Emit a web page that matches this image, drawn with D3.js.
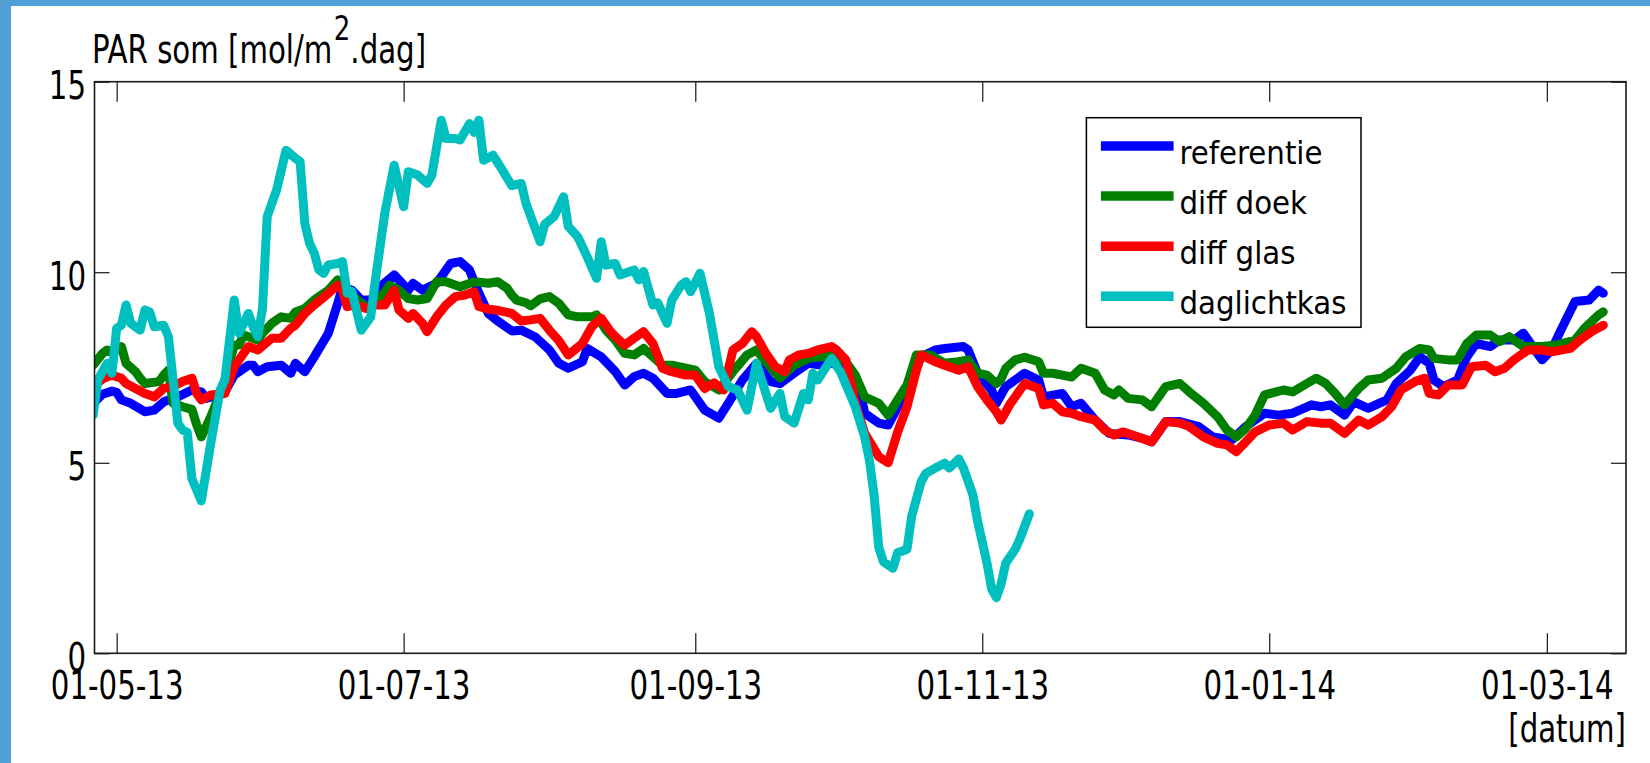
<!DOCTYPE html>
<html>
<head>
<meta charset="utf-8">
<script src="https://cdn.jsdelivr.net/npm/d3@7"></script>
<style>
  body { margin: 0; background: #fff; }
  svg { display: block; }
  text { font-family: "DejaVu Sans Condensed", "DejaVu Sans", sans-serif; fill: #000; }
</style>
</head>
<body>
<script>
// PAR som per kas, lopend gemiddelde
var referentie = [
  ["2013-04-26",6.55],["2013-04-28",6.8],["2013-04-30",6.88],["2013-05-01",6.85],["2013-05-02",6.65],["2013-05-04",6.56],
  ["2013-05-07",6.34],["2013-05-09",6.38],["2013-05-11",6.6],["2013-05-14",6.73],["2013-05-17",6.91],["2013-05-19",6.86],
  ["2013-05-20",6.69],["2013-05-23",6.78],["2013-05-24",6.86],["2013-05-26",7.3],["2013-05-29",7.56],["2013-05-30",7.56],
  ["2013-05-31",7.39],["2013-06-02",7.52],["2013-06-05",7.56],["2013-06-07",7.35],["2013-06-08",7.61],["2013-06-10",7.39],
  ["2013-06-12",7.78],["2013-06-15",8.4],["2013-06-17",9.18],["2013-06-18",9.62],["2013-06-20",9.53],["2013-06-22",9.27],
  ["2013-06-24",9.27],["2013-06-26",9.62],["2013-06-29",9.93],["2013-07-02",9.53],["2013-07-03",9.71],["2013-07-05",9.53],
  ["2013-07-08",9.71],["2013-07-11",10.23],["2013-07-13",10.28],["2013-07-15",10.06],["2013-07-17",9.45],["2013-07-19",8.92],
  ["2013-07-21",8.72],["2013-07-24",8.46],["2013-07-26",8.48],["2013-07-29",8.3],["2013-08-01",7.96],["2013-08-03",7.61],
  ["2013-08-05",7.48],["2013-08-08",7.65],["2013-08-09",8.0],["2013-08-12",7.78],["2013-08-15",7.39],["2013-08-17",7.04],
  ["2013-08-19",7.26],["2013-08-21",7.35],["2013-08-23",7.22],["2013-08-26",6.82],["2013-08-28",6.82],["2013-08-31",6.91],
  ["2013-09-03",6.38],["2013-09-06",6.17],["2013-09-08",6.56],["2013-09-11",7.17],["2013-09-14",7.61],["2013-09-17",7.13],
  ["2013-09-19",7.08],["2013-09-22",7.35],["2013-09-25",7.61],["2013-09-28",7.56],["2013-09-30",7.61],["2013-10-03",7.52],
  ["2013-10-06",6.91],["2013-10-07",6.3],["2013-10-10",6.04],["2013-10-12",5.99],["2013-10-16",6.91],["2013-10-19",7.78],
  ["2013-10-22",7.96],["2013-10-24",8.0],["2013-10-28",8.05],["2013-10-29",7.96],["2013-10-31",7.35],["2013-11-03",6.91],
  ["2013-11-04",6.56],["2013-11-06",7.0],["2013-11-10",7.35],["2013-11-13",7.17],["2013-11-14",6.73],["2013-11-18",6.82],
  ["2013-11-20",6.47],["2013-11-22",6.56],["2013-11-25",6.12],["2013-11-28",5.77],["2013-12-02",5.73],["2013-12-05",5.64],
  ["2013-12-07",5.55],["2013-12-10",6.08],["2013-12-13",6.08],["2013-12-17",5.95],["2013-12-20",5.68],["2013-12-24",5.6],
  ["2013-12-27",5.95],["2013-12-31",6.3],["2014-01-03",6.25],["2014-01-06",6.3],["2014-01-10",6.52],["2014-01-12",6.47],
  ["2014-01-14",6.52],["2014-01-17",6.25],["2014-01-19",6.6],["2014-01-22",6.43],["2014-01-26",6.65],["2014-01-28",7.08],
  ["2014-01-31",7.43],["2014-02-02",7.78],["2014-02-04",7.61],["2014-02-05",7.17],["2014-02-07",7.0],["2014-02-10",7.17],
  ["2014-02-12",7.78],["2014-02-14",8.13],["2014-02-17",8.05],["2014-02-19",8.22],["2014-02-22",8.22],["2014-02-24",8.4],
  ["2014-02-26",8.05],["2014-02-28",7.7],["2014-03-02",7.96],["2014-03-04",8.48],["2014-03-07",9.23],["2014-03-10",9.27],
  ["2014-03-12",9.53],["2014-03-13",9.45]
];

var diffDoek = [
  ["2013-04-26",7.56],["2013-04-28",7.87],["2013-04-29",7.96],["2013-04-30",7.9],["2013-05-02",8.05],["2013-05-03",7.61],
  ["2013-05-05",7.39],["2013-05-06",7.22],["2013-05-07",7.08],["2013-05-10",7.13],["2013-05-11",7.3],["2013-05-12",7.43],
  ["2013-05-13",6.56],["2013-05-15",6.47],["2013-05-17",6.4],["2013-05-18",6.0],["2013-05-19",5.68],["2013-05-21",6.21],
  ["2013-05-23",6.82],["2013-05-24",7.17],["2013-05-26",8.09],["2013-05-27",8.09],["2013-05-28",8.35],["2013-05-31",8.22],
  ["2013-06-01",8.4],["2013-06-03",8.66],["2013-06-05",8.83],["2013-06-07",8.79],["2013-06-08",8.96],["2013-06-10",9.05],
  ["2013-06-12",9.27],["2013-06-15",9.53],["2013-06-17",9.8],["2013-06-18",9.75],["2013-06-20",9.4],["2013-06-22",9.18],
  ["2013-06-24",9.05],["2013-06-26",9.31],["2013-06-28",9.66],["2013-06-30",9.53],["2013-07-02",9.31],["2013-07-04",9.27],
  ["2013-07-06",9.31],["2013-07-08",9.75],["2013-07-10",9.75],["2013-07-13",9.62],["2013-07-16",9.75],["2013-07-19",9.71],
  ["2013-07-21",9.75],["2013-07-23",9.58],["2013-07-24",9.4],["2013-07-25",9.27],["2013-07-27",9.2],["2013-07-28",9.12],
  ["2013-07-30",9.3],["2013-08-01",9.36],["2013-08-03",9.18],["2013-08-05",8.88],["2013-08-07",8.83],["2013-08-10",8.83],
  ["2013-08-11",8.88],["2013-08-13",8.48],["2013-08-15",8.22],["2013-08-17",7.87],["2013-08-19",7.83],["2013-08-21",8.0],
  ["2013-08-23",7.78],["2013-08-25",7.56],["2013-08-27",7.56],["2013-08-30",7.48],["2013-09-01",7.43],["2013-09-03",7.13],
  ["2013-09-06",6.91],["2013-09-09",7.39],["2013-09-12",7.83],["2013-09-14",7.96],["2013-09-16",7.65],["2013-09-19",7.22],
  ["2013-09-22",7.56],["2013-09-25",7.74],["2013-09-28",7.78],["2013-09-30",7.87],["2013-10-03",7.65],["2013-10-05",7.3],
  ["2013-10-07",6.73],["2013-10-10",6.56],["2013-10-12",6.25],["2013-10-14",6.65],["2013-10-16",7.04],["2013-10-18",7.83],
  ["2013-10-21",7.83],["2013-10-24",7.61],["2013-10-27",7.65],["2013-10-29",7.7],["2013-10-31",7.35],["2013-11-02",7.3],
  ["2013-11-04",7.08],["2013-11-05",7.2],["2013-11-06",7.48],["2013-11-08",7.7],["2013-11-10",7.77],["2013-11-13",7.65],
  ["2013-11-14",7.35],["2013-11-16",7.35],["2013-11-18",7.3],["2013-11-20",7.25],["2013-11-22",7.48],["2013-11-25",7.35],
  ["2013-11-27",6.91],["2013-11-29",6.78],["2013-11-30",6.91],["2013-12-02",6.69],["2013-12-05",6.65],["2013-12-07",6.47],
  ["2013-12-10",7.0],["2013-12-13",7.08],["2013-12-15",6.86],["2013-12-18",6.56],["2013-12-21",6.21],["2013-12-23",5.86],
  ["2013-12-25",5.68],["2013-12-27",5.9],["2013-12-29",6.25],["2013-12-31",6.78],["2014-01-04",6.91],["2014-01-06",6.86],
  ["2014-01-09",7.08],["2014-01-11",7.22],["2014-01-13",7.08],["2014-01-15",6.82],["2014-01-17",6.52],["2014-01-20",6.95],
  ["2014-01-22",7.17],["2014-01-25",7.22],["2014-01-28",7.48],["2014-01-30",7.78],["2014-02-02",8.0],["2014-02-04",7.96],
  ["2014-02-05",7.74],["2014-02-08",7.7],["2014-02-10",7.7],["2014-02-12",8.13],["2014-02-14",8.35],["2014-02-17",8.35],
  ["2014-02-19",8.18],["2014-02-21",8.31],["2014-02-24",8.05],["2014-02-28",8.05],["2014-03-03",8.09],["2014-03-07",8.22],
  ["2014-03-09",8.53],["2014-03-12",8.88],["2014-03-13",8.96]
];

var diffGlas = [
  ["2013-04-26",7.0],["2013-04-28",7.2],["2013-04-30",7.3],["2013-05-02",7.22],["2013-05-03",7.08],["2013-05-05",6.95],
  ["2013-05-07",6.82],["2013-05-09",6.73],["2013-05-11",6.95],["2013-05-13",7.0],["2013-05-15",7.13],["2013-05-17",7.22],
  ["2013-05-18",6.82],["2013-05-19",6.65],["2013-05-21",6.78],["2013-05-24",6.82],["2013-05-26",7.52],["2013-05-29",8.05],
  ["2013-05-31",7.96],["2013-06-03",8.27],["2013-06-05",8.27],["2013-06-07",8.53],["2013-06-08",8.61],["2013-06-10",8.92],
  ["2013-06-12",9.14],["2013-06-15",9.45],["2013-06-17",9.66],["2013-06-18",9.53],["2013-06-19",9.1],["2013-06-21",9.14],
  ["2013-06-23",9.05],["2013-06-25",9.14],["2013-06-27",9.14],["2013-06-29",9.53],["2013-06-30",9.01],["2013-07-02",8.79],
  ["2013-07-03",8.92],["2013-07-05",8.66],["2013-07-06",8.44],["2013-07-08",8.83],["2013-07-10",9.14],["2013-07-12",9.36],
  ["2013-07-14",9.4],["2013-07-16",9.49],["2013-07-17",9.1],["2013-07-19",9.03],["2013-07-21",9.0],["2013-07-24",8.92],
  ["2013-07-26",8.72],["2013-07-28",8.75],["2013-07-30",8.79],["2013-08-01",8.48],["2013-08-03",8.2],["2013-08-05",7.83],
  ["2013-08-08",8.13],["2013-08-10",8.57],["2013-08-12",8.79],["2013-08-14",8.44],["2013-08-15",8.31],["2013-08-17",8.09],
  ["2013-08-19",8.27],["2013-08-21",8.44],["2013-08-23",8.13],["2013-08-25",7.48],["2013-08-27",7.39],["2013-08-30",7.3],
  ["2013-09-01",7.3],["2013-09-03",6.95],["2013-09-05",7.1],["2013-09-07",6.91],["2013-09-09",7.96],["2013-09-11",8.13],
  ["2013-09-13",8.44],["2013-09-14",8.31],["2013-09-16",7.87],["2013-09-18",7.52],["2013-09-20",7.39],["2013-09-21",7.7],
  ["2013-09-23",7.83],["2013-09-25",7.87],["2013-09-27",7.96],["2013-09-30",8.05],["2013-10-01",7.96],["2013-10-03",7.7],
  ["2013-10-05",6.56],["2013-10-07",5.77],["2013-10-10",5.16],["2013-10-12",5.0],["2013-10-14",5.8],["2013-10-16",6.47],
  ["2013-10-18",7.43],["2013-10-19",7.83],["2013-10-22",7.65],["2013-10-24",7.56],["2013-10-27",7.43],["2013-10-29",7.52],
  ["2013-10-31",7.0],["2013-11-02",6.65],["2013-11-04",6.34],["2013-11-05",6.12],["2013-11-07",6.56],["2013-11-08",6.73],
  ["2013-11-10",7.08],["2013-11-13",6.95],["2013-11-14",6.52],["2013-11-16",6.56],["2013-11-18",6.34],["2013-11-20",6.3],
  ["2013-11-22",6.21],["2013-11-25",6.12],["2013-11-27",5.86],["2013-11-29",5.73],["2013-12-01",5.81],["2013-12-04",5.68],
  ["2013-12-07",5.55],["2013-12-10",6.08],["2013-12-13",6.04],["2013-12-15",5.95],["2013-12-18",5.68],["2013-12-21",5.51],
  ["2013-12-23",5.47],["2013-12-25",5.29],["2013-12-27",5.55],["2013-12-29",5.81],["2014-01-01",5.99],["2014-01-04",6.04],
  ["2014-01-06",5.86],["2014-01-09",6.08],["2014-01-12",6.04],["2014-01-14",6.04],["2014-01-17",5.77],["2014-01-20",6.12],
  ["2014-01-22",5.99],["2014-01-25",6.21],["2014-01-27",6.47],["2014-01-29",6.91],["2014-02-01",7.13],["2014-02-03",7.22],
  ["2014-02-04",6.82],["2014-02-06",6.78],["2014-02-08",7.04],["2014-02-11",7.04],["2014-02-13",7.52],["2014-02-16",7.56],
  ["2014-02-18",7.39],["2014-02-20",7.48],["2014-02-22",7.7],["2014-02-25",7.96],["2014-02-28",7.96],["2014-03-02",7.91],
  ["2014-03-06",8.0],["2014-03-08",8.22],["2014-03-11",8.48],["2014-03-13",8.61]
];

var daglichtkas = [
  ["2013-04-26",6.25],["2013-04-27",7.17],["2013-04-29",7.61],["2013-04-30",7.35],["2013-05-01",8.53],["2013-05-02",8.61],
  ["2013-05-03",9.14],["2013-05-04",8.66],["2013-05-06",8.48],["2013-05-07",9.01],["2013-05-08",8.96],["2013-05-09",8.57],
  ["2013-05-11",8.61],["2013-05-12",8.31],["2013-05-14",6.04],["2013-05-15",5.86],["2013-05-16",5.8],["2013-05-17",4.58],
  ["2013-05-19",4.0],["2013-05-21",5.51],["2013-05-23",6.91],["2013-05-24",7.17],["2013-05-26",9.27],["2013-05-27",8.4],
  ["2013-05-29",8.92],["2013-05-30",8.57],["2013-05-31",8.31],["2013-06-01",9.05],["2013-06-02",11.46],["2013-06-04",12.16],
  ["2013-06-05",12.68],["2013-06-06",13.2],["2013-06-08",12.99],["2013-06-09",12.9],["2013-06-10",11.28],["2013-06-11",10.76],
  ["2013-06-12",10.5],["2013-06-13",10.06],["2013-06-14",9.97],["2013-06-15",10.19],["2013-06-17",10.23],["2013-06-18",10.28],
  ["2013-06-19",9.45],["2013-06-20",9.5],["2013-06-22",8.48],["2013-06-24",8.83],["2013-06-25",9.8],["2013-06-27",11.55],
  ["2013-06-29",12.81],["2013-07-01",11.72],["2013-07-02",12.64],["2013-07-04",12.55],["2013-07-06",12.33],["2013-07-07",12.55],
  ["2013-07-09",13.99],["2013-07-10",13.51],["2013-07-12",13.51],["2013-07-13",13.47],["2013-07-15",13.9],["2013-07-16",13.67],
  ["2013-07-17",13.99],["2013-07-18",12.94],["2013-07-20",13.07],["2013-07-22",12.68],["2013-07-24",12.27],["2013-07-26",12.33],
  ["2013-07-27",11.81],["2013-07-30",10.8],["2013-07-31",11.26],["2013-08-02",11.46],["2013-08-04",11.98],["2013-08-05",11.2],
  ["2013-08-07",10.93],["2013-08-09",10.41],["2013-08-11",9.84],["2013-08-12",10.8],["2013-08-13",10.19],["2013-08-15",10.23],
  ["2013-08-16",9.93],["2013-08-19",10.06],["2013-08-20",9.8],["2013-08-21",10.02],["2013-08-23",9.14],["2013-08-24",9.2],
  ["2013-08-26",8.66],["2013-08-27",9.27],["2013-08-29",9.66],["2013-08-30",9.75],["2013-08-31",9.49],["2013-09-02",9.97],
  ["2013-09-04",8.92],["2013-09-06",7.52],["2013-09-08",7.0],["2013-09-10",6.91],["2013-09-12",6.38],["2013-09-14",7.61],
  ["2013-09-17",6.43],["2013-09-19",6.82],["2013-09-20",6.21],["2013-09-22",6.04],["2013-09-24",6.82],["2013-09-25",6.65],
  ["2013-09-26",7.35],["2013-09-27",7.17],["2013-09-30",7.74],["2013-10-02",7.35],["2013-10-05",6.47],["2013-10-07",5.68],
  ["2013-10-08",5.07],["2013-10-09",4.16],["2013-10-10",2.78],["2013-10-11",2.4],["2013-10-13",2.23],["2013-10-14",2.64],
  ["2013-10-16",2.73],["2013-10-17",3.6],["2013-10-19",4.5],["2013-10-20",4.72],["2013-10-22",4.86],["2013-10-24",4.99],
  ["2013-10-25",4.86],["2013-10-27",5.1],["2013-10-28",4.86],["2013-10-30",4.16],["2013-10-31",3.47],["2013-11-02",2.37],
  ["2013-11-03",1.68],["2013-11-04",1.46],["2013-11-05",1.82],["2013-11-06",2.37],["2013-11-08",2.73],["2013-11-09",3.0],
  ["2013-11-11",3.66]
];

var seriesNames = ["referentie", "diff doek", "diff glas", "daglichtkas"];
var seriesColors = ["#0000ff", "#007f00", "#ff0000", "#00bfbf"];
var seriesData = [referentie, diffDoek, diffGlas, daglichtkas];

var xTickDates = ["2013-05-01", "2013-07-01", "2013-09-01", "2013-11-01", "2014-01-01", "2014-03-01"];
var yTickValues = [0, 5, 10, 15];

var width = 1650, height = 763;
var plotL = 94.5, plotR = 1626, plotT = 81.7, plotB = 653.3;
var stretch = "scale(1,1.19)";

var parse = d3.utcParse("%Y-%m-%d");

var svg = d3.select("body").append("svg")
    .attr("width", width)
    .attr("height", height);

// blauwe rand
svg.append("rect").attr("x", 0).attr("y", 0).attr("width", width).attr("height", height).attr("fill", "#fff");
svg.append("rect").attr("x", 0).attr("y", 0).attr("width", 11).attr("height", height).attr("fill", "#519fd7");
svg.append("rect").attr("x", 0).attr("y", 0).attr("width", width).attr("height", 6).attr("fill", "#519fd7");

var x = d3.scaleUtc()
    .domain([new Date(Date.UTC(2013, 3, 26, 7)), new Date(Date.UTC(2014, 2, 17, 20))])
    .range([plotL, plotR]);

var y = d3.scaleLinear()
    .domain([0, 15])
    .range([plotB, plotT]);

svg.append("clipPath").attr("id", "plotclip")
  .append("rect")
    .attr("x", plotL).attr("y", plotT)
    .attr("width", plotR - plotL).attr("height", plotB - plotT);

var line = d3.line()
    .x(function(d){ return x(parse(d[0])); })
    .y(function(d){ return y(d[1]); });

var plot = svg.append("g").attr("clip-path", "url(#plotclip)");

plot.selectAll("path.serie")
    .data(seriesData)
    .enter()
    .append("path")
    .attr("class", "serie")
    .attr("d", line)
    .attr("fill", "none")
    .attr("stroke", function(d, i){ return seriesColors[i]; })
    .attr("stroke-width", 9)
    .attr("stroke-linejoin", "round")
    .attr("stroke-linecap", "round");

// assen
var xDates = xTickDates.map(parse);

var xBottom = svg.append("g")
    .attr("transform", "translate(0," + plotB + ")")
    .call(d3.axisBottom(x).tickValues(xDates).tickSize(-20).tickFormat(d3.utcFormat("%d-%m-%y")));

var xTop = svg.append("g")
    .attr("transform", "translate(0," + plotT + ")")
    .call(d3.axisTop(x).tickValues(xDates).tickSize(-20).tickFormat(""));

var yLeft = svg.append("g")
    .attr("transform", "translate(" + plotL + ",0)")
    .call(d3.axisLeft(y).tickValues(yTickValues).tickSize(-15).tickFormat(d3.format("d")));

var yRight = svg.append("g")
    .attr("transform", "translate(" + plotR + ",0)")
    .call(d3.axisRight(y).tickValues(yTickValues).tickSize(-15).tickFormat(""));

svg.selectAll(".domain").remove();
svg.selectAll(".tick line").attr("stroke", "#000").attr("stroke-width", 1.1);

xBottom.selectAll("text")
    .attr("y", null).attr("dy", null)
    .attr("text-anchor", "middle")
    .attr("transform", "translate(0,45.7) " + stretch)
    .style("font-size", "32.5px")
    .style("font-family", "'DejaVu Sans Condensed', 'DejaVu Sans', sans-serif");

yLeft.selectAll("text")
    .attr("x", null).attr("dy", null)
    .attr("text-anchor", "end")
    .attr("transform", "translate(-8.5,17) " + stretch)
    .style("font-size", "32.5px")
    .style("font-family", "'DejaVu Sans Condensed', 'DejaVu Sans', sans-serif");

svg.selectAll(".tick text").attr("fill", "#000");

svg.append("rect")
    .attr("x", plotL).attr("y", plotT)
    .attr("width", plotR - plotL).attr("height", plotB - plotT)
    .attr("fill", "none")
    .attr("stroke", "#1a1a1a")
    .attr("stroke-width", 1.6);

// titels
var title = svg.append("text")
    .attr("transform", "translate(92,62.7) " + stretch)
    .style("font-size", "32.5px");
title.append("tspan").text("PAR som [mol/m");
title.append("tspan").attr("dx", 1.5).attr("dy", -19).style("font-size", "29px").text("2");
title.append("tspan").attr("dy", 19).text(".dag]");

svg.append("text")
    .attr("transform", "translate(1626,741.7) " + stretch)
    .attr("text-anchor", "end")
    .style("font-size", "32.5px")
    .text("[datum]");

// legenda
var legend = svg.append("g").attr("class", "legend");

legend.append("rect")
    .attr("x", 1086.4).attr("y", 117.7)
    .attr("width", 274.6).attr("height", 209.6)
    .attr("fill", "#fff")
    .attr("stroke", "#000")
    .attr("stroke-width", 1.5);

legend.selectAll("line")
    .data(seriesNames)
    .enter()
    .append("line")
    .attr("x1", 1100.9).attr("x2", 1173.6)
    .attr("y1", function(d, i){ return 146 + i * 50.1; })
    .attr("y2", function(d, i){ return 146 + i * 50.1; })
    .attr("stroke", function(d, i){ return seriesColors[i]; })
    .attr("stroke-width", 9.5);

legend.selectAll("text")
    .data(seriesNames)
    .enter()
    .append("text")
    .attr("x", 1179.5)
    .attr("y", function(d, i){ return 164 + i * 50.1; })
    .style("font-size", "32.5px")
    .text(function(d){ return d; });
</script>
</body>
</html>
